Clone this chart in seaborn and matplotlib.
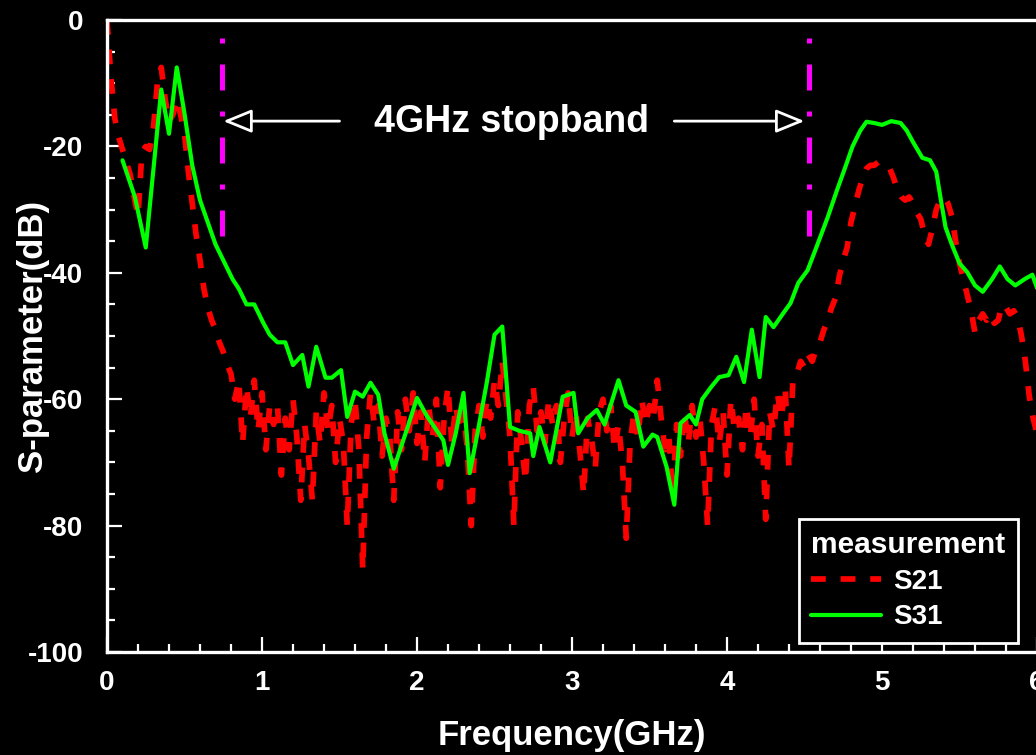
"""
S-parameter measurement: S21 / S31 with 4GHz stopband markers
"""
import numpy as np
import pandas as pd
import matplotlib
matplotlib.use("Agg")
import matplotlib.pyplot as plt
import seaborn as sns
from matplotlib.ticker import MultipleLocator

# ---- data ----
S21_STEP = 0.025  # GHz, sweep step of the S21 trace
s21_db = [
    # 0.000 - 0.800
    0, -9, -15.5, -18.5, -20.5, -22.5, -24.5, -28, -31, -21,
    -20, -20.5, -17, -10, -7.5, -12.5, -16, -15, -12.5, -15,
    -18, -24, -29, -34, -38, -42.5, -45.5, -47.5, -49, -51,
    -52.5, -54.5, -56,
    # 0.825 - 4.425 (noise floor of the stopband)
    -60, -57, -67, -58, -63, -57, -65, -59, -68, -61,
    -64, -61, -72, -63, -68, -60, -66, -76, -64, -69,
    -76, -62, -67, -59, -65, -61, -70, -63, -67, -80,
    -64, -60, -68, -87, -66, -59, -64, -61, -69, -63,
    -66, -76, -62, -68, -60, -65, -59, -67, -62, -70,
    -61, -66, -60, -74, -63, -58, -67, -61, -65, -62,
    -68, -80, -65, -61, -66, -60, -63, -57, -61, -54,
    -60, -66, -80, -62, -67, -73, -61, -58, -65, -62,
    -67, -60, -64, -61, -70, -63, -59, -66, -62, -68,
    -75, -63, -66, -71, -62, -60, -65, -61, -68, -64,
    -70, -82, -67, -62, -66, -60, -64, -61, -63, -57,
    -63, -68, -66, -75, -64, -69, -62, -67, -61, -66,
    -63, -70, -80, -64, -61, -67, -62, -72, -60, -65,
    -63, -68, -61, -66, -60, -69, -64, -79, -62, -65,
    -59, -63, -58, -71, -57,
    # 4.450 - 6.000
    -56, -54, -55, -53, -54, -52, -51, -49, -47.5, -45.5,
    -44, -40.5, -38, -36, -32, -29.5, -27, -25, -23.5, -23,
    -23, -22.5, -23, -23, -23.5, -25, -27, -28, -28.5, -28,
    -29, -30.5, -31.5, -34, -35.5, -33, -30, -28.5, -28, -29,
    -31, -35, -38.5, -41, -43.5, -46, -49.5, -47.5, -46.5, -47.5,
    -46.5, -48, -47.5, -45, -45.5, -46.5, -46, -47, -50, -54,
    -59.5, -63, -65.5,
]

s31_freq = [
    0.10, 0.18, 0.25, 0.35, 0.40, 0.45, 0.50, 0.55, 0.60, 0.65,
    0.70, 0.75, 0.81, 0.85, 0.90, 0.95, 1.01, 1.05, 1.10, 1.15,
    1.20, 1.26, 1.30, 1.35, 1.41, 1.45, 1.51, 1.55, 1.60, 1.65,
    1.70, 1.75, 1.79, 1.85, 1.94, 2.00, 2.06, 2.17, 2.20, 2.25,
    2.30, 2.34, 2.39, 2.45, 2.50, 2.55, 2.60, 2.66, 2.73, 2.75,
    2.79, 2.86, 2.94, 3.01, 3.04, 3.10, 3.16, 3.21, 3.30, 3.35,
    3.41, 3.46, 3.52, 3.55, 3.61, 3.66, 3.70, 3.76, 3.80, 3.84,
    3.90, 3.95, 4.01, 4.06, 4.11, 4.16, 4.21, 4.25, 4.30, 4.36,
    4.41, 4.46, 4.52, 4.57, 4.65, 4.71, 4.76, 4.81, 4.86, 4.90,
    4.95, 5.00, 5.06, 5.12, 5.16, 5.20, 5.26, 5.31, 5.35, 5.38,
    5.41, 5.45, 5.50, 5.55, 5.60, 5.65, 5.71, 5.76, 5.81, 5.86,
    5.92, 5.97, 6.00,
]
s31_db = [
    -22.2, -28, -36, -11, -18, -7.5, -14.8, -23, -28.5, -32,
    -35.5, -38, -41, -42.5, -45, -45, -48, -49.8, -51, -51,
    -54.6, -53, -58, -51.7, -56.6, -56.6, -55.4, -62.8, -58.8, -59.6,
    -57.4, -59.3, -65.4, -71, -64.4, -59.8, -62.5, -66.5, -70.4, -65.4,
    -59, -71.7, -65.4, -57.4, -49.8, -48.5, -64.4, -65, -65.4, -69,
    -64.4, -70, -59.6, -59, -65.4, -63, -61.7, -64, -57, -61,
    -62, -67.5, -65.6, -66, -70.7, -76.7, -63.8, -62.5, -64, -60,
    -58, -56.5, -56.2, -53.3, -57.3, -49, -56.5, -47, -48.6, -46.5,
    -44.8, -41.6, -39.6, -36.4, -31.2, -26.9, -23.5, -20, -17.5, -16.1,
    -16.3, -16.6, -16, -16.3, -17.5, -19.3, -21.8, -22.2, -24, -28.5,
    -32.8, -35.5, -38.5, -39.9, -42, -43, -41, -39, -41, -42,
    -41, -40.3, -42.4,
]

stopband_edges = [0.74, 4.53]      # GHz, magenta markers
stopband_marker_db = [-2.8, -34.2]  # vertical extent of markers
label_text = "4GHz stopband"

s21 = pd.DataFrame({"freq": np.arange(len(s21_db)) * S21_STEP, "db": s21_db})
s31 = pd.DataFrame({"freq": s31_freq, "db": s31_db})

# ---- style ----
sns.set_theme(style="ticks", rc={
    "figure.facecolor": "black",
    "axes.facecolor": "black",
    "savefig.facecolor": "black",
    "axes.edgecolor": "white",
    "text.color": "white",
    "axes.labelcolor": "white",
    "xtick.color": "white",
    "ytick.color": "white",
})
plt.rcParams["font.family"] = ["Liberation Sans", "DejaVu Sans"]
plt.rcParams["axes.unicode_minus"] = False

W, H = 1036, 755
fig = plt.figure(figsize=(W / 100, H / 100), dpi=100)
ax = fig.add_axes([107 / W, 103 / H, 930 / W, 632 / H])

sns.lineplot(data=s21, x="freq", y="db", ax=ax, estimator=None, sort=False,
             color="#FF0000", linewidth=4.1, label="S21")
sns.lineplot(data=s31, x="freq", y="db", ax=ax, estimator=None, sort=False,
             color="#00FF00", linewidth=3.0, label="S31")
s21_line, s31_line = ax.get_lines()[:2]
s21_line.set_dashes((2.6, 2.6))
s21_line.set_dash_capstyle("butt")

# stopband markers
for xe in stopband_edges:
    ax.plot([xe, xe], stopband_marker_db, color="#FF00FF", linewidth=3.6,
            linestyle=(0, (1, 4.2, 5.2, 4.2)), dash_capstyle="butt")

arrow_kw = dict(arrowstyle="-|>,head_length=1.1,head_width=0.45",
                fc="black", ec="white", lw=2, mutation_scale=16,
                shrinkA=0, shrinkB=0)
ax.annotate("", xy=(stopband_edges[0] + 0.01, -16.0), xytext=(1.50, -16.0),
            arrowprops=arrow_kw)
ax.annotate("", xy=(stopband_edges[1] - 0.03, -16.0), xytext=(3.66, -16.0),
            arrowprops=arrow_kw)
ax.text(2.61, -16.2, label_text, ha="center", va="center",
        fontsize=27, fontweight="bold", color="white")

# axes
ax.set_xlim(0, 6)
ax.set_ylim(-100, 0)
ax.xaxis.set_major_locator(MultipleLocator(1))
ax.xaxis.set_minor_locator(MultipleLocator(0.2))
ax.yaxis.set_major_locator(MultipleLocator(20))
ax.yaxis.set_minor_locator(MultipleLocator(5))
ax.tick_params(which="both", direction="in", colors="white", width=1.6,
               top=False, right=False)
ax.tick_params(which="major", length=11)
ax.tick_params(which="minor", length=5.5)
ax.tick_params(axis="x", which="major", labelsize=20, pad=13)
ax.tick_params(axis="y", which="major", labelsize=20, pad=17)
for lab in ax.get_xticklabels() + ax.get_yticklabels():
    lab.set_fontweight("bold")

for side in ["left", "bottom", "top"]:
    ax.spines[side].set_color("white")
    ax.spines[side].set_linewidth(2.4)
ax.spines["right"].set_visible(False)

ax.set_xlabel("Frequency(GHz)", fontsize=25, fontweight="bold", color="white")
ax.xaxis.set_label_coords(0.5, (652 - 735) / 632)
ax.xaxis.label.set_va("center")
ax.set_ylabel("S-parameter(dB)", fontsize=25, fontweight="bold", color="white")
ax.yaxis.set_label_coords((33 - 107) / 930, 0.5)
ax.yaxis.label.set_va("center")

leg = ax.legend(handles=[s21_line, s31_line], labels=["S21", "S31"],
                title="measurement", loc="lower right",
                bbox_to_anchor=(1018 / W, 112 / H), bbox_transform=fig.transFigure,
                borderaxespad=0, frameon=True, fancybox=False,
                prop={"size": 20, "weight": "bold"},
                title_fontproperties={"size": 21.5, "weight": "bold"},
                alignment="left", handlelength=2.5, handletextpad=0.45,
                labelspacing=0.35, borderpad=0.45)
leg.get_frame().set_facecolor("black")
leg.get_frame().set_edgecolor("white")
leg.get_frame().set_linewidth(2)
leg.get_frame().set_alpha(1)
for t in leg.get_texts():
    t.set_color("white")
leg.get_title().set_color("white")

fig.savefig("out.png", dpi=100, facecolor="black")
